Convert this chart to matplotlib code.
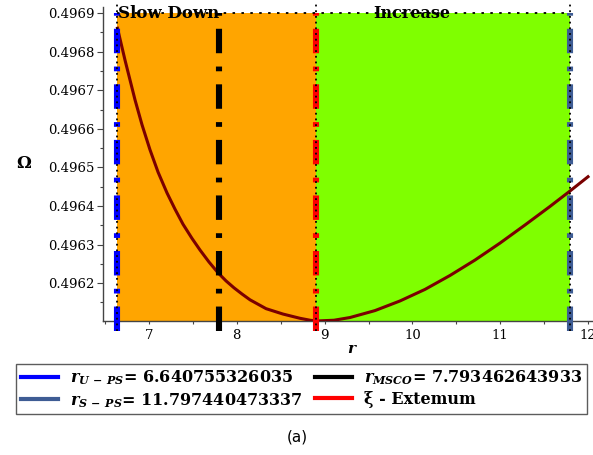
import numpy as np
import matplotlib
matplotlib.use("Agg")
import matplotlib.pyplot as plt
from matplotlib.lines import Line2D
from matplotlib.ticker import FixedLocator, FormatStrFormatter

plt.rcParams['mathtext.fontset'] = 'custom'
plt.rcParams['mathtext.rm'] = 'DejaVu Serif:bold'
plt.rcParams['mathtext.it'] = 'DejaVu Serif:italic:bold'
plt.rcParams['mathtext.bf'] = 'DejaVu Serif:bold'
plt.rcParams['lines.scale_dashes'] = False

# special radii
r_ups = 6.640755326035
r_msco = 7.793462643933
r_ext = 8.905
r_sps = 11.797440473337

# Omega(r)
r_vals = [6.641, 6.727, 6.841, 6.920, 7.011, 7.103, 7.205, 7.296, 7.387, 7.490,
          7.581, 7.683, 7.786, 7.877, 7.968, 8.059, 8.150, 8.333, 8.526, 8.720,
          8.834, 8.905, 9.107, 9.289, 9.574, 9.859, 10.144, 10.428, 10.713,
          10.998, 11.283, 11.567, 11.795, 12.0]
omega = [0.496861, 0.496778, 0.496675, 0.496611, 0.496546, 0.496488, 0.496434,
         0.496392, 0.496353, 0.496316, 0.496286, 0.496255, 0.496227, 0.496206,
         0.496188, 0.496172, 0.496157, 0.496134, 0.496120, 0.496109, 0.496104,
         0.496102, 0.496104, 0.496111, 0.496129, 0.496154, 0.496184, 0.496220,
         0.496260, 0.496304, 0.496351, 0.496399, 0.496439, 0.496476]

y_ticks = [0.4962, 0.4963, 0.4964, 0.4965, 0.4966, 0.4967, 0.4968, 0.4969]
x_ticks = [7, 8, 9, 10, 11, 12]
omega_top = 0.4969

legend_labels = [r'$r_{U\,-\,PS}$= 6.640755326035',
                 r'$r_{S\,-\,PS}$= 11.797440473337',
                 r'$r_{MSCO}$= 7.793462643933',
                 'ξ - Extemum']

c_orange = '#FFA500'
c_green = '#7FFF00'
c_blue = '#0000FF'
c_slate = '#3E5C94'
c_red = '#FF0000'
c_curve = '#7A0000'

fig = plt.figure(figsize=(5.93, 4.55), dpi=100)
ax = fig.add_axes([103/593, 1-321/455, 489.4/593, 314/455])
ax.set_xlim(6.476, 12.05)
ax.set_ylim(0.496102, 0.496916)

# shaded regions
ax.fill_between([r_ups, r_ext], 0.49605, omega_top, color=c_orange, lw=0, zorder=1)
ax.fill_between([r_ext, r_sps], 0.49605, omega_top, color=c_green, lw=0, zorder=1)

ax.plot(r_vals, omega, color=c_curve, lw=2.2, zorder=3)

# thick dash-dot markers
dashdot = (0, (17.6, 9.4, 3.4, 9.6))
y_lo = 0.496077
for xv, col in [(r_ups, c_blue), (r_msco, 'black'), (r_ext, c_red), (r_sps, c_slate)]:
    ax.plot([xv, xv], [y_lo, omega_top], color=col, lw=4.4, linestyle=dashdot,
            solid_capstyle='butt', dash_capstyle='butt', zorder=4, clip_on=False)

# dotted region borders
for xv in [r_ups, r_ext, r_sps]:
    ax.plot([xv, xv], [y_lo, 0.496926], color='black', lw=1.3,
            linestyle=(0, (1.3, 2.8)), zorder=5, clip_on=False)
ax.plot([r_ups, r_sps], [omega_top, omega_top], color='black', lw=1.3,
        linestyle=(0, (1.8, 4.6)), zorder=5, clip_on=False)

ax.text(7.225, omega_top, 'Slow Down', family='DejaVu Serif', weight='bold',
        fontsize=12, ha='center', va='center', zorder=6)
ax.text(9.995, omega_top, 'Increase', family='DejaVu Serif', weight='bold',
        fontsize=11.5, ha='center', va='center', zorder=6)

for s in ['top', 'right']:
    ax.spines[s].set_visible(False)
for s in ['left', 'bottom']:
    ax.spines[s].set_color('#444444')
    ax.spines[s].set_linewidth(1.0)

ax.yaxis.set_major_locator(FixedLocator(y_ticks))
ax.yaxis.set_minor_locator(FixedLocator([t + 0.00005 for t in y_ticks[:-1]] + [0.49615]))
ax.yaxis.set_major_formatter(FormatStrFormatter('%.4f'))
ax.xaxis.set_major_locator(FixedLocator(x_ticks))
ax.xaxis.set_minor_locator(FixedLocator([6.5, 7.5, 8.5, 9.5, 10.5, 11.5]))
ax.tick_params(axis='y', which='major', length=4, width=0.8, color='#444444', pad=2)
ax.tick_params(axis='y', which='minor', length=2.5, width=0.8, color='#444444')
ax.tick_params(axis='x', which='both', length=2.5, width=0.8, color='#444444', pad=3)
for lab in ax.get_xticklabels() + ax.get_yticklabels():
    lab.set_family('DejaVu Serif')
    lab.set_fontsize(9.5)

ax.set_ylabel('Ω', family='DejaVu Serif', weight='bold', fontsize=12, rotation=0,
              ha='center', va='center')
ax.yaxis.set_label_coords(-0.163, 0.50)
ax.set_xlabel('$r$', fontsize=11, va='center')
ax.xaxis.set_label_coords(0.509, -0.089)

handles = [Line2D([], [], color=c, lw=3) for c in [c_blue, c_slate, 'black', c_red]]
leg = fig.legend(handles, legend_labels, ncol=2, mode='expand', loc='center',
                 bbox_to_anchor=(16/593, 1-416/455, 571/593, 54/455),
                 prop={'family': 'DejaVu Serif', 'weight': 'bold', 'size': 11.5},
                 frameon=True, fancybox=False, edgecolor='#333333',
                 handlelength=2.3, handletextpad=0.75, labelspacing=0.25,
                 borderpad=0.3, borderaxespad=0)
leg.get_frame().set_linewidth(1.0)

fig.text(297/593, 1-437/455, '(a)', fontsize=11, ha='center', va='center')

fig.savefig('out.png', dpi=100)
